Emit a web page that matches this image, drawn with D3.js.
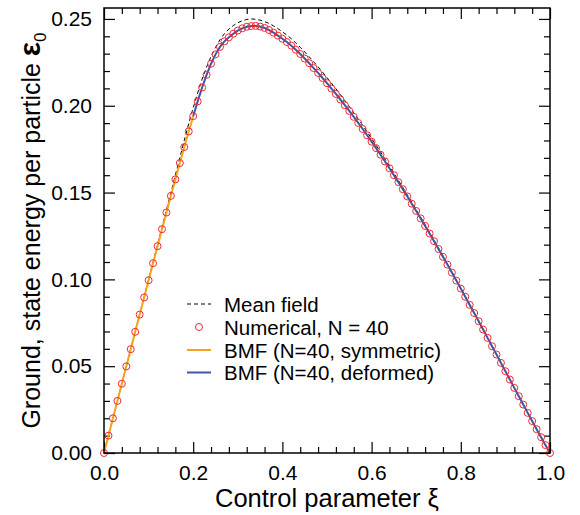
<!DOCTYPE html>
<html>
<head>
<meta charset="utf-8">
<script src="https://cdn.jsdelivr.net/npm/d3@7"></script>
<style>
  html, body { margin: 0; padding: 0; background: #fff; }
  svg { display: block; font-family: "Liberation Sans", Arial, Helvetica, sans-serif; }
</style>
</head>
<body>
<svg id="chart" width="580" height="515"></svg>
<script>
// ---- data ----
const xiStart = 0, xiStep = 0.01;
const numerical = [
  0.0000,0.0100,0.0200,0.0300,0.0399,0.0499,0.0598,0.0698,0.0797,0.0896,
  0.0995,0.1093,0.1191,0.1289,0.1385,0.1481,0.1576,0.1670,0.1762,0.1852,
  0.1940,0.2025,0.2105,0.2178,0.2242,0.2296,0.2339,0.2371,0.2394,0.2415,
  0.2433,0.2446,0.2455,0.2459,0.2460,0.2456,0.2448,0.2436,0.2421,0.2404,
  0.2386,0.2367,0.2346,0.2323,0.2298,0.2272,0.2245,0.2217,0.2189,0.2160,
  0.2130,0.2099,0.2068,0.2036,0.2003,0.1970,0.1936,0.1901,0.1866,0.1830,
  0.1793,0.1756,0.1718,0.1679,0.1640,0.1600,0.1560,0.1519,0.1478,0.1436,
  0.1394,0.1351,0.1308,0.1264,0.1220,0.1175,0.1130,0.1085,0.1039,0.0993,
  0.0947,0.0900,0.0853,0.0806,0.0759,0.0711,0.0663,0.0615,0.0567,0.0519,
  0.0471,0.0423,0.0375,0.0327,0.0279,0.0231,0.0184,0.0137,0.0091,0.0045,
  0.0000
];
const meanField = [
  0.0000,0.0100,0.0200,0.0300,0.0400,0.0500,0.0600,0.0700,0.0800,0.0900,
  0.1000,0.1100,0.1200,0.1300,0.1400,0.1500,0.1600,0.1700,0.1800,0.1898,
  0.1988,0.2074,0.2153,0.2223,0.2284,0.2336,0.2380,0.2415,0.2442,0.2462,
  0.2478,0.2490,0.2497,0.2500,0.2498,0.2493,0.2485,0.2474,0.2460,0.2444,
  0.2426,0.2407,0.2386,0.2362,0.2337,0.2310,0.2282,0.2253,0.2224,0.2194,
  0.2162,0.2130,0.2098,0.2064,0.2030,0.1995,0.1960,0.1923,0.1887,0.1849,
  0.1811,0.1773,0.1734,0.1693,0.1653,0.1612,0.1571,0.1529,0.1487,0.1445,
  0.1402,0.1358,0.1315,0.1270,0.1226,0.1180,0.1135,0.1089,0.1043,0.0996,
  0.0950,0.0903,0.0856,0.0808,0.0761,0.0713,0.0665,0.0617,0.0569,0.0520,
  0.0472,0.0424,0.0376,0.0328,0.0280,0.0232,0.0185,0.0137,0.0091,0.0045,
  0.0000
];
// BMF symmetric: xi = 0.00 ... 0.20
const bmfSymStart = 0.00;
const bmfSymmetric = [
  0.0000,0.0100,0.0200,0.0300,0.0399,0.0499,0.0598,0.0698,0.0797,0.0896,
  0.0995,0.1093,0.1191,0.1289,0.1385,0.1481,0.1576,0.1670,0.1762,0.1852,
  0.1940
];
// BMF deformed: xi = 0.20 ... 1.00
const bmfDefStart = 0.20;
const bmfDeformed = [
  0.1940,0.2025,0.2105,0.2178,0.2242,0.2296,0.2339,0.2371,0.2394,0.2415,
  0.2433,0.2446,0.2455,0.2459,0.2460,0.2456,0.2448,0.2436,0.2421,0.2404,
  0.2386,0.2367,0.2346,0.2323,0.2298,0.2272,0.2245,0.2217,0.2189,0.2160,
  0.2130,0.2099,0.2068,0.2036,0.2003,0.1970,0.1936,0.1901,0.1866,0.1830,
  0.1793,0.1756,0.1718,0.1679,0.1640,0.1600,0.1560,0.1519,0.1478,0.1436,
  0.1394,0.1351,0.1308,0.1264,0.1220,0.1175,0.1130,0.1085,0.1039,0.0993,
  0.0947,0.0900,0.0853,0.0806,0.0759,0.0711,0.0663,0.0615,0.0567,0.0519,
  0.0471,0.0423,0.0375,0.0327,0.0279,0.0231,0.0184,0.0137,0.0091,0.0045,
  0.0000
];
const xMajorTicks = [0.0, 0.2, 0.4, 0.6, 0.8, 1.0];
const xTickLabels = ["0.0", "0.2", "0.4", "0.6", "0.8", "1.0"];
const yMajorTicks = [0.00, 0.05, 0.10, 0.15, 0.20, 0.25];
const yTickLabels = ["0.00", "0.05", "0.10", "0.15", "0.20", "0.25"];
const legendLabels = ["Mean field", "Numerical, N = 40", "BMF (N=40, symmetric)", "BMF (N=40, deformed)"];

// ---- layout ----
const W = 580, H = 515;
const m = { left: 104, right: 30, top: 8, bottom: 62 };
const pw = W - m.left - m.right, ph = H - m.top - m.bottom;
const svg = d3.select("#chart");
const g = svg.append("g").attr("transform", `translate(${m.left},${m.top})`);

const x = d3.scaleLinear().domain([0, 1]).range([0, pw]);
const y = d3.scaleLinear().domain([0, 0.2563]).range([ph, 0]);

const ORANGE = "#f7a21b", BLUE = "#3c57a8", RED = "#ee2a30";

const toPts = (arr, start) => arr.map((v, i) => [start + i * xiStep, v]);
const line = d3.line().x(d => x(d[0])).y(d => y(d[1]));

const xMinor = d3.range(0, 1.0001, 0.04).filter(v => !xMajorTicks.some(t => Math.abs(t - v) < 1e-6));
const yMinor = d3.range(0, 0.2501, 0.01).filter(v => !yMajorTicks.some(t => Math.abs(t - v) < 1e-6));

// axes (ticks inward)
const MAJ = 11, MIN = 6;
function styleAxis(sel) {
  sel.select(".domain").remove();
  sel.selectAll(".tick line").attr("stroke", "#000").attr("stroke-width", 1.2);
  sel.selectAll(".tick text").attr("fill", "#000").style("font-size", "21px");
}
g.append("g").attr("transform", `translate(0,${ph})`)
  .call(d3.axisBottom(x).tickValues(xMajorTicks).tickSizeInner(-MAJ).tickSizeOuter(0).tickPadding(12)
        .tickFormat((d, i) => xTickLabels[i])).call(styleAxis);
g.append("g").attr("transform", `translate(0,${ph})`)
  .call(d3.axisBottom(x).tickValues(xMinor).tickSizeInner(-MIN).tickSizeOuter(0).tickFormat("")).call(styleAxis);
g.append("g")
  .call(d3.axisTop(x).tickValues(xMajorTicks).tickSizeInner(-MAJ).tickSizeOuter(0).tickFormat("")).call(styleAxis);
g.append("g")
  .call(d3.axisTop(x).tickValues(xMinor).tickSizeInner(-MIN).tickSizeOuter(0).tickFormat("")).call(styleAxis);
g.append("g")
  .call(d3.axisLeft(y).tickValues(yMajorTicks).tickSizeInner(-MAJ).tickSizeOuter(0).tickPadding(12)
        .tickFormat((d, i) => yTickLabels[i])).call(styleAxis);
g.append("g")
  .call(d3.axisLeft(y).tickValues(yMinor).tickSizeInner(-MIN).tickSizeOuter(0).tickFormat("")).call(styleAxis);
g.append("g").attr("transform", `translate(${pw},0)`)
  .call(d3.axisRight(y).tickValues(yMajorTicks).tickSizeInner(-MAJ).tickSizeOuter(0).tickFormat("")).call(styleAxis);
g.append("g").attr("transform", `translate(${pw},0)`)
  .call(d3.axisRight(y).tickValues(yMinor).tickSizeInner(-MIN).tickSizeOuter(0).tickFormat("")).call(styleAxis);

// series
g.append("path").datum(toPts(meanField, xiStart)).attr("d", line)
  .attr("fill", "none").attr("stroke", "#000").attr("stroke-width", 1).attr("stroke-dasharray", "4,3");
g.append("path").datum(toPts(bmfSymmetric, bmfSymStart)).attr("d", line)
  .attr("fill", "none").attr("stroke", ORANGE).attr("stroke-width", 2);
g.append("path").datum(toPts(bmfDeformed, bmfDefStart)).attr("d", line)
  .attr("fill", "none").attr("stroke", BLUE).attr("stroke-width", 2);
g.append("g").selectAll("circle").data(toPts(numerical, xiStart)).join("circle")
  .attr("cx", d => x(d[0])).attr("cy", d => y(d[1])).attr("r", 3.5)
  .attr("fill", "none").attr("stroke", RED).attr("stroke-width", 1);

// frame
g.append("rect").attr("x", 0).attr("y", 0).attr("width", pw).attr("height", ph)
  .attr("fill", "none").attr("stroke", "#000").attr("stroke-width", 1.5);

// legend
const lg = svg.append("g");
const rows = [304, 327, 350, 372.5];
const symX0 = 187, symX1 = 211, txtX = 224;
lg.append("line").attr("x1", symX0).attr("x2", symX1).attr("y1", rows[0]).attr("y2", rows[0])
  .attr("stroke", "#000").attr("stroke-width", 1).attr("stroke-dasharray", "4,3");
lg.append("circle").attr("cx", (symX0 + symX1) / 2).attr("cy", rows[1]).attr("r", 3.5)
  .attr("fill", "none").attr("stroke", RED).attr("stroke-width", 1);
lg.append("line").attr("x1", symX0).attr("x2", symX1).attr("y1", rows[2]).attr("y2", rows[2])
  .attr("stroke", ORANGE).attr("stroke-width", 2);
lg.append("line").attr("x1", symX0).attr("x2", symX1).attr("y1", rows[3]).attr("y2", rows[3])
  .attr("stroke", BLUE).attr("stroke-width", 2);
legendLabels.forEach((t, i) => {
  lg.append("text").attr("x", txtX).attr("y", rows[i] + 7.5).attr("font-size", 20.5).attr("fill", "#000").text(t);
});

// axis titles
svg.append("text").attr("x", m.left + pw / 2).attr("y", 507).attr("text-anchor", "middle")
  .attr("font-size", 25.5).attr("fill", "#000").text("Control parameter ξ");
const yt = svg.append("text").attr("transform", `translate(40,${m.top + ph / 2}) rotate(-90)`)
  .attr("text-anchor", "middle").attr("font-size", 25).attr("fill", "#000");
yt.append("tspan").text("Ground, state energy per particle ");
yt.append("tspan").attr("font-size", 30).attr("font-weight", "bold").text("ε");
yt.append("tspan").attr("font-size", 17).attr("dy", 6).text("0");
</script>
</body>
</html>
